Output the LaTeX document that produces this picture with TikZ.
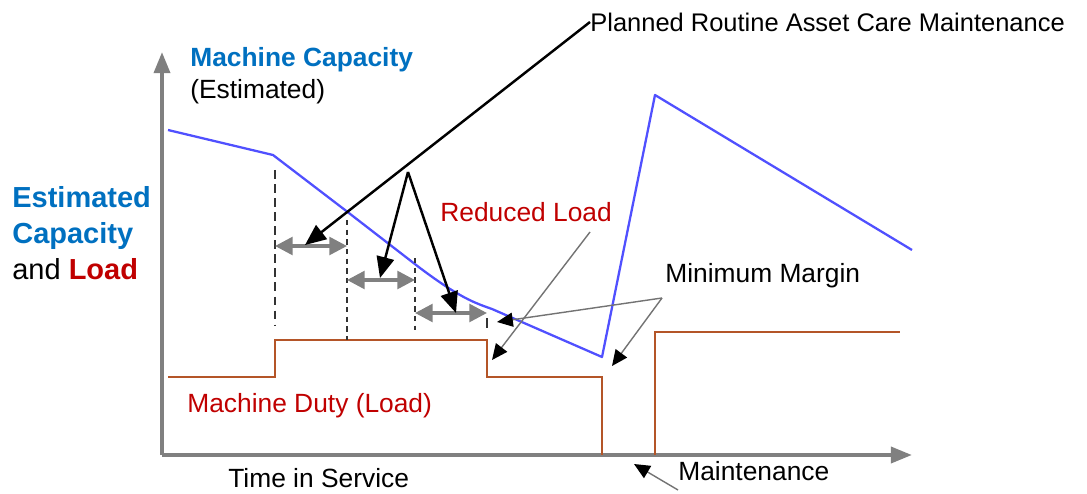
\documentclass[tikz,border=0pt]{standalone}
\usepackage{fontspec}
\setmainfont{Liberation Sans}
\usetikzlibrary{arrows.meta}
\definecolor{capblue}{RGB}{0,112,192}
\definecolor{linblue}{RGB}{80,80,255}
\definecolor{loadred}{RGB}{192,0,0}
\definecolor{loadbrown}{RGB}{180,85,40}
\definecolor{axisgrey}{RGB}{128,128,128}
\begin{document}
\begin{tikzpicture}[x=0.02cm,y=-0.02cm,
    txt/.style={inner sep=0pt,font=\fontsize{15}{18}\selectfont},
    axisline/.style={axisgrey,line width=2.3pt,-{Triangle[length=12pt,width=9pt]}},
    capline/.style={linblue,line width=1.3pt,line join=round},
    loadline/.style={loadbrown,line width=1.1pt},
    pointer/.style={black,line width=1.4pt,-{Triangle[length=12pt,width=10pt]}},
    thinpointer/.style={black!55,line width=0.8pt,-{Triangle[length=9pt,width=8pt,color=black]}},
    span/.style={axisgrey,line width=2pt,{Triangle[length=10pt,width=10pt]}-{Triangle[length=10pt,width=10pt]}},
    guide/.style={black!80,line width=0.7pt,dash pattern=on 3pt off 2.5pt}]
  \useasboundingbox (0,0) rectangle (1087,493);
  % axes
  \coordinate (origin) at (162,455);
  \draw[axisline] (origin) -- (162,52);
  \draw[axisline] (origin) -- (912,455);
  % capacity
  \draw[capline] (168,130) -- (273,155) -- (345,210) -- (420,268)
    .. controls (460,298) and (475,303) .. (492,309) -- (602,357) -- (655,95) -- (912,250);
  % load
  \draw[loadline] (168,377) -- (275,377) -- (275,340) -- (487,340) -- (487,377) -- (602,377) -- (602,455);
  \draw[loadline] (655,455) -- (655,332) -- (900,332);
  % guides
  \coordinate (g1) at (275,246);
  \coordinate (g2) at (347,280);
  \coordinate (g3) at (415,313);
  \coordinate (g4) at (487,313);
  \draw[guide,dash pattern=on 5pt off 3pt] (275,170) -- (275,326);
  \draw[guide] (347,220) -- (347,340);
  \draw[guide] (415,258) -- (415,330);
  \draw[guide,dash pattern=on 6pt off 2pt] (487,318) -- (487,328);
  \draw[span] (g1) -- (347,246);
  \draw[span] (g2) -- (g3 |- g2);
  \draw[span] (g3) -- (g4);
  % labels
  \node[txt,anchor=west,text=capblue,font=\fontsize{15}{18}\selectfont\bfseries] (capname) at (190,60) {Machine Capacity};
  \node[txt,anchor=west] (capest) at (190,92) {(Estimated)};
  \node[txt,anchor=west,align=left,font=\fontsize{16.5}{20.5}\selectfont] (ylabel) at (12,233)
    {\textcolor{capblue}{\bfseries Estimated}\\\textcolor{capblue}{\bfseries Capacity}\\and \textcolor{loadred}{\bfseries Load}};
  \node[txt,anchor=west,font=\fontsize{14.5}{18}\selectfont] (plan) at (590,22) {Planned Routine Asset Care Maintenance};
  \node[txt,anchor=west,text=loadred] (reduced) at (440,212) {Reduced Load};
  \node[txt,anchor=west] (margin) at (665,276) {Minimum Margin};
  \node[txt,anchor=west,text=loadred] (duty) at (187,406) {Machine Duty (Load)};
  \node[txt,anchor=west] (time) at (228,478) {Time in Service};
  \node[txt,anchor=west] (maint) at (678,471) {Maintenance};
  % pointers
  \coordinate (fork) at (408,172);
  \coordinate (redfoot) at (590,232);
  \coordinate (marfoot) at (662,298);
  \coordinate (mainfoot) at (678,490);
  \draw[pointer] (plan.west) -- (305,245);
  \draw[pointer] (fork) -- (380,278);
  \draw[pointer] (fork) -- (456,313);
  \draw[thinpointer] (redfoot) -- (492,360);
  \draw[thinpointer] (marfoot) -- (497,322);
  \draw[thinpointer] (marfoot) -- (612,366);
  \draw[thinpointer] (mainfoot) -- (634,464);
\end{tikzpicture}
\end{document}
